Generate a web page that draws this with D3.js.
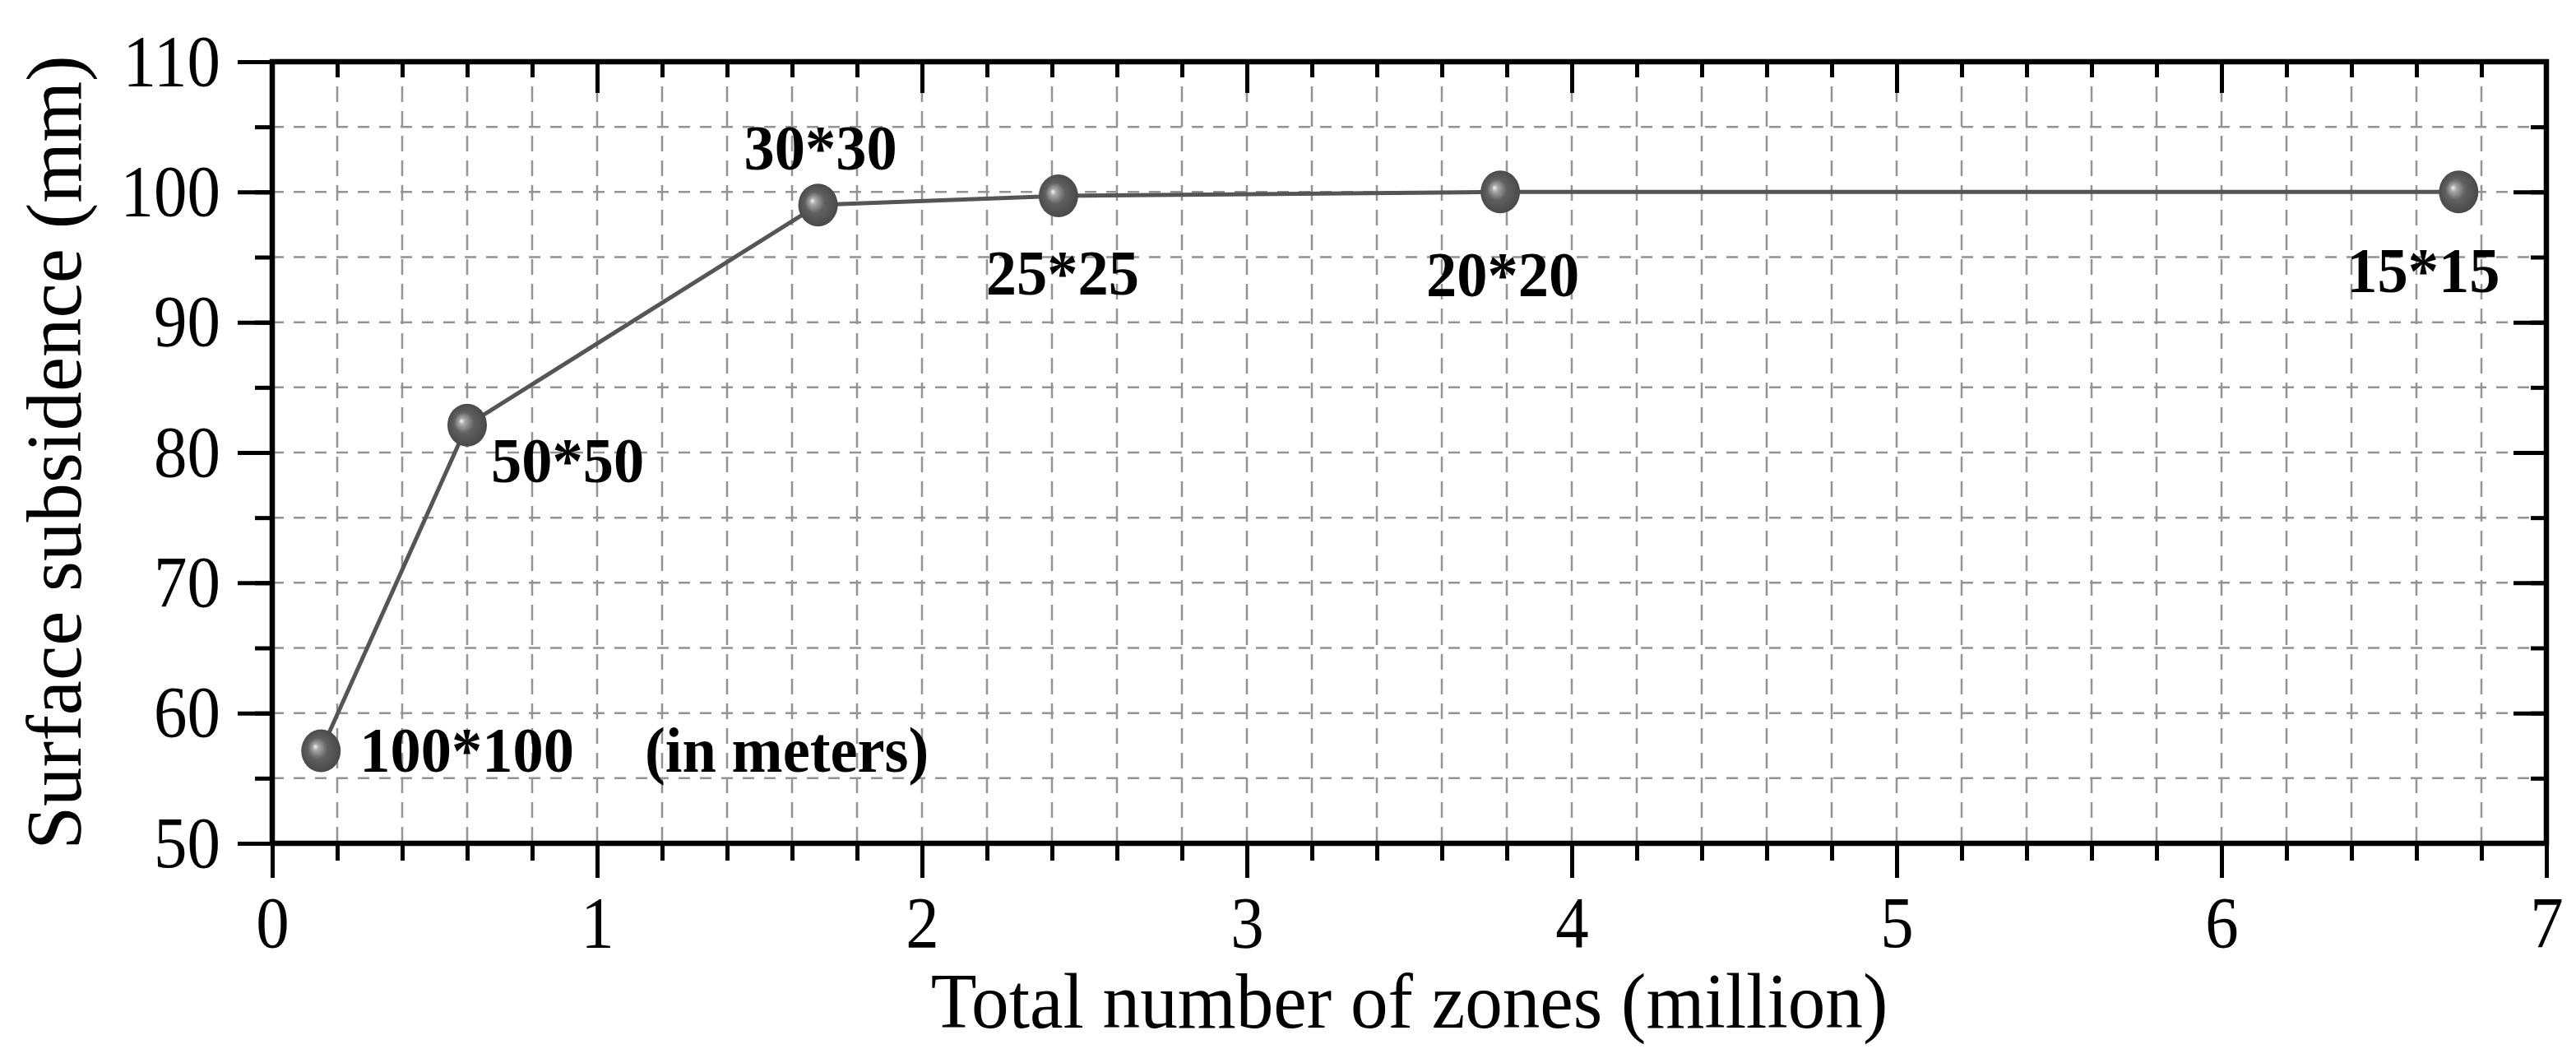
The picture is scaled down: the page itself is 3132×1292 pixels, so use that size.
<!DOCTYPE html>
<html lang='en'>
<head>
  <meta charset='UTF-8'>
  <title>Surface subsidence vs total number of zones</title>
  <style>
  body { margin: 0; background: #fff; }
  text { font-family: 'Liberation Serif', 'Times New Roman', serif; fill: #000; }
  .axis path.domain { display: none; }
  .axis line { stroke: #000; stroke-width: 5; }
  .grid line { stroke: #939393; stroke-width: 2.5; }
  .tick-label { font-size: 88px; }
  .title { font-size: 95px; }
  .mesh { font-size: 78px; font-weight: bold; }
  </style>
  <script src="https://d3js.org/d3.v7.min.js"></script>
</head>
<body>
  <script>

  // data
  var zones = [0.15, 0.6, 1.68, 2.42, 3.78, 6.73];        // million
  var subsidence = [57.1, 82.1, 99.0, 99.7, 100.0, 100.0]; // mm
  var meshLabels = ['100*100', '50*50', '30*30', '25*25', '20*20', '15*15'];
  var xTicks = [0, 1, 2, 3, 4, 5, 6, 7];
  var yTicks = [50, 60, 70, 80, 90, 100, 110];
  var note = '(in meters)';

  var svgWidth = 3132;
  var svgHeight = 1292;
  var margin = { top: 75, right: 36, bottom: 267, left: 331 };
  var width = svgWidth - margin.left - margin.right;
  var height = svgHeight - margin.top - margin.bottom;
  var sx = 0.92; // the figure's text is a little narrow

  var svg = d3.select('body').append('svg')
    .attr('width', svgWidth)
    .attr('height', svgHeight);

  var g = svg.append('g').attr('transform', 'translate(' + margin.left + ',' + margin.top + ')');

  var x = d3.scaleLinear().domain([0, 7]).range([0, width]);
  var y = d3.scaleLinear().domain([50, 110]).range([height, 0]);

  var xMinor = d3.range(0, 36).map(function (i) { return i / 5; });
  var yMinor = d3.range(50, 111, 5);

  // dashed grid

  var grid = g.append('g').attr('class', 'grid');

  grid.selectAll('.vgrid')
    .data(xMinor.filter(function (v) { return v > 0 && v < 7; }))
    .enter().append('line')
    .attr('x1', function (d) { return x(d); })
    .attr('x2', function (d) { return x(d); })
    .attr('y1', 0)
    .attr('y2', height)
    .attr('stroke-dasharray', '19,11');

  grid.selectAll('.hgrid')
    .data(yMinor.filter(function (v) { return v > 50 && v < 110; }))
    .enter().append('line')
    .attr('x1', 0)
    .attr('x2', width)
    .attr('y1', function (d) { return y(d); })
    .attr('y2', function (d) { return y(d); })
    .attr('stroke-dasharray', '14,12');

  // axes: outward ticks bottom/left, inward on top/right

  function minor(axis, vals) {
    return axis.tickValues(vals).tickSize(21).tickSizeOuter(0).tickFormat('');
  }

  g.append('g').attr('class', 'axis').attr('transform', 'translate(0,' + height + ')')
    .call(minor(d3.axisBottom(x), xMinor));
  g.append('g').attr('class', 'axis x-major').attr('transform', 'translate(0,' + height + ')')
    .call(d3.axisBottom(x).tickValues(xTicks).tickSize(42).tickSizeOuter(0).tickPadding(22).tickFormat(d3.format('d')));

  g.append('g').attr('class', 'axis')
    .call(minor(d3.axisLeft(y), yMinor));
  g.append('g').attr('class', 'axis y-major')
    .call(d3.axisLeft(y).tickValues(yTicks).tickSize(42).tickSizeOuter(0).tickPadding(21).tickFormat(d3.format('d')));

  g.append('g').attr('class', 'axis')
    .call(minor(d3.axisTop(x), xMinor).tickSize(-19));
  g.append('g').attr('class', 'axis')
    .call(d3.axisTop(x).tickValues(xTicks).tickSize(-38).tickSizeOuter(0).tickFormat(''));

  g.append('g').attr('class', 'axis').attr('transform', 'translate(' + width + ',0)')
    .call(minor(d3.axisRight(y), yMinor).tickSize(-19));
  g.append('g').attr('class', 'axis').attr('transform', 'translate(' + width + ',0)')
    .call(d3.axisRight(y).tickValues(yTicks).tickSize(-40).tickSizeOuter(0).tickFormat(''));

  // drop the empty labels of the minor ticks
  g.selectAll('.axis text').filter(function () { return this.textContent === ''; }).remove();

  g.selectAll('.x-major text')
    .attr('class', 'tick-label')
    .attr('transform', 'scale(' + sx + ',1)');

  g.selectAll('.y-major text')
    .attr('class', 'tick-label')
    .attr('x', -63 / sx)
    .attr('transform', 'scale(' + sx + ',1)');

  g.append('rect')
    .attr('width', width)
    .attr('height', height)
    .attr('fill', 'none')
    .attr('stroke', '#000')
    .attr('stroke-width', 6.5);

  // axis titles

  g.append('text')
    .attr('class', 'title')
    .attr('text-anchor', 'middle')
    .attr('transform', 'translate(' + (width / 2) + ',' + (height + 224) + ') scale(0.96,1)')
    .text('Total number of zones (million)');

  g.append('text')
    .attr('class', 'title')
    .attr('text-anchor', 'middle')
    .attr('transform', 'translate(' + (98 - margin.left) + ',' + (height / 2) + ') rotate(-90)')
    .text('Surface subsidence (mm)');

  // line and sphere markers

  var pts = zones.map(function (z, i) { return { z: z, s: subsidence[i], label: meshLabels[i] }; });

  var defs = svg.append('defs');
  var grad = defs.append('radialGradient')
    .attr('id', 'ball')
    .attr('cx', '0.5').attr('cy', '0.5').attr('r', '0.55')
    .attr('fx', '0.35').attr('fy', '0.4');
  grad.append('stop').attr('offset', '0').attr('stop-color', '#f4f4f4');
  grad.append('stop').attr('offset', '0.14').attr('stop-color', '#a8a8a8');
  grad.append('stop').attr('offset', '0.45').attr('stop-color', '#606060');
  grad.append('stop').attr('offset', '1').attr('stop-color', '#454545');

  g.append('path')
    .datum(pts)
    .attr('fill', 'none')
    .attr('stroke', '#555')
    .attr('stroke-width', 5)
    .attr('d', d3.line().x(function (d) { return x(d.z); }).y(function (d) { return y(d.s); }));

  g.selectAll('.ball')
    .data(pts)
    .enter().append('ellipse')
    .attr('class', 'ball')
    .attr('cx', function (d) { return x(d.z); })
    .attr('cy', function (d) { return y(d.s); })
    .attr('rx', 24)
    .attr('ry', 26)
    .attr('fill', 'url(#ball)');

  // mesh size labels, offsets in px from each marker
  var labelPlace = [
    { anchor: 'start', dx: 47, dy: 25 },
    { anchor: 'start', dx: 29, dy: 69 },
    { anchor: 'start', dx: -90, dy: -43 },
    { anchor: 'middle', dx: 5, dy: 120 },
    { anchor: 'middle', dx: 3, dy: 127 },
    { anchor: 'middle', dx: -43, dy: 122 }
  ];

  g.selectAll('.mesh')
    .data(pts)
    .enter().append('text')
    .attr('class', 'mesh')
    .attr('text-anchor', function (d, i) { return labelPlace[i].anchor; })
    .attr('transform', function (d, i) {
      return 'translate(' + (x(d.z) + labelPlace[i].dx) + ',' + (y(d.s) + labelPlace[i].dy) + ') scale(0.955,1)';
    })
    .text(function (d) { return d.label; });

  g.append('text')
    .attr('class', 'mesh')
    .attr('transform', 'translate(' + x(1.147) + ',' + y(55.5) + ') scale(0.955,1)')
    .text(note);
  </script>
</body>
</html>
